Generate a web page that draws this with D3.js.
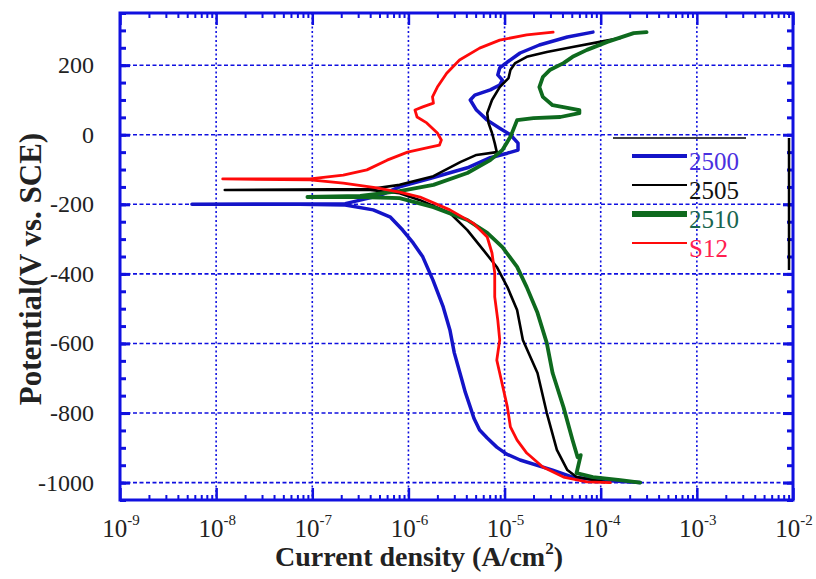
<!DOCTYPE html>
<html>
<head>
<meta charset="utf-8">
<script src="https://d3js.org/d3.v7.min.js"></script>
<style>
  body { margin: 0; background: #fff; }
  text { font-family: "Liberation Serif", "Times New Roman", serif; }
  .tick-label { font-size: 24px; fill: #222; }
  .axis-title { font-weight: bold; fill: #222; }
</style>
</head>
<body>
<svg width="816" height="579"></svg>
<script>
// Polarization curves: [current density A/cm2, potential]
var seriesNames = ["2500", "2505", "2510", "S12"];

var s2500 = [
  [2.57e-4, -1000], [9.8e-5, -993], [5.1e-5, -984], [3.16e-5, -964], [1.45e-5, -935],
  [1.05e-5, -918], [8.3e-6, -898], [6.6e-6, -872], [5.5e-6, -849], [4.8e-6, -815],
  [4.4e-6, -783], [3.9e-6, -740], [3.6e-6, -705], [3.0e-6, -627],
  [2.7e-6, -561], [2.3e-6, -495], [1.8e-6, -418], [1.41e-6, -351], [1.12e-6, -311],
  [8.7e-7, -274], [6.5e-7, -237], [4.3e-7, -216], [2.2e-7, -202], [7.4e-8, -200],
  [5.6e-9, -200], [2.2e-7, -198], [5.0e-7, -175], [8.1e-7, -150], [1.82e-6, -123],
  [4.1e-6, -95], [7.1e-6, -66], [1.07e-5, -53], [1.38e-5, -44], [1.38e-5, -24],
  [1.15e-5, 0], [8.9e-6, 19], [6.6e-6, 42], [5.1e-6, 71], [4.4e-6, 100],
  [4.9e-6, 114], [7.1e-6, 129], [8.9e-6, 143], [9.5e-6, 157], [8.5e-6, 172],
  [8.9e-6, 192], [1.07e-5, 209], [1.45e-5, 235], [2.3e-5, 258], [4.5e-5, 281], [8.3e-5, 295]
];

var s2505 = [
  [1.1e-4, -998], [5.6e-5, -984], [4.5e-5, -964], [3.5e-5, -906], [2.75e-5, -800],
  [2.2e-5, -685], [1.55e-5, -590], [1.35e-5, -504], [1.07e-5, -438], [8.3e-6, -380],
  [6.0e-6, -331], [4.1e-6, -274], [2.7e-6, -225], [1.32e-6, -188], [8.1e-7, -168],
  [4.0e-7, -159], [7.4e-8, -159], [1.23e-8, -159], [4.0e-7, -156], [8.1e-7, -144],
  [1.82e-6, -119], [3.5e-6, -78], [5.1e-6, -58], [8.3e-6, -50], [7.9e-6, -24],
  [7.4e-6, 5], [6.8e-6, 34], [6.6e-6, 62], [7.4e-6, 100], [8.9e-6, 137],
  [1.1e-5, 163], [1.15e-5, 186], [1.29e-5, 206], [1.7e-5, 224], [2.75e-5, 238],
  [5.1e-5, 252], [9.8e-5, 267], [1.6e-4, 278]
];

var s2510 = [
  [2.57e-4, -1000], [1.6e-4, -993], [8.3e-5, -984], [5.6e-5, -973], [6.2e-5, -921],
  [5.75e-5, -927], [5.1e-5, -878], [4.1e-5, -783], [3.16e-5, -685], [2.75e-5, -599],
  [2.2e-5, -512], [1.7e-5, -438], [1.35e-5, -380], [9.5e-6, -323], [6.6e-6, -282],
  [4.1e-6, -245], [1.82e-6, -208], [8.1e-7, -182], [3.16e-7, -179], [8.9e-8, -179],
  [3.16e-7, -176], [8.1e-7, -162], [1.82e-6, -144], [4.1e-6, -110], [7.1e-6, -73],
  [9.5e-6, -44], [1.15e-5, -6], [1.35e-5, 42], [2.0e-5, 48], [3.8e-5, 51],
  [6.0e-5, 62], [6.0e-5, 71], [4.5e-5, 77], [3.16e-5, 85], [2.5e-5, 109],
  [2.3e-5, 137], [2.5e-5, 166], [2.95e-5, 186], [4.1e-5, 206], [5.1e-5, 224],
  [7.2e-5, 244], [1.17e-4, 267], [2.2e-4, 292], [3.0e-4, 295]
];

var s12 = [
  [1.26e-4, -1000], [7.2e-5, -998], [4.1e-5, -984], [2.5e-5, -955], [1.7e-5, -915],
  [1.35e-5, -878], [1.15e-5, -840], [1.07e-5, -783], [8.9e-6, -685], [8.3e-6, -648],
  [8.9e-6, -590], [8.5e-6, -533], [7.9e-6, -466], [7.9e-6, -397], [7.4e-6, -340],
  [6.6e-6, -294], [4.7e-6, -254], [2.7e-6, -216], [1.32e-6, -179], [8.1e-7, -165],
  [4.7e-7, -153], [2.1e-7, -139], [9.5e-8, -130], [1.17e-8, -127], [9.5e-8, -127],
  [2.1e-7, -116], [3.7e-7, -101], [6.0e-7, -73], [9.8e-7, -50], [1.55e-6, -38],
  [2.1e-6, -30], [2.2e-6, -15], [2.0e-6, 5], [1.55e-6, 34], [1.23e-6, 51],
  [1.17e-6, 71], [1.41e-6, 80], [1.82e-6, 91], [1.78e-6, 109], [2.0e-6, 137],
  [2.5e-6, 177], [3.4e-6, 215], [5.5e-6, 249], [8.9e-6, 272], [1.7e-5, 287], [3.2e-5, 295]
];

var currentTicks = [1e-9, 1e-8, 1e-7, 1e-6, 1e-5, 1e-4, 1e-3, 1e-2];
var currentExps = ["-9", "-8", "-7", "-6", "-5", "-4", "-3", "-2"];
var potentialTicks = [-1000, -800, -600, -400, -200, 0, 200];

var svg = d3.select("svg");
var pL = 120, pR = 793, pT = 13, pB = 500;
var blue = "#1010e0";

var x = d3.scaleLog().domain([1e-9, 1e-2]).range([pL, pR]);
var y = d3.scaleLinear().domain([-1050, 350]).range([pB, pT]);

// grid
var grid = svg.append("g");
grid.selectAll(".gx").data(currentTicks.slice(1, -1)).enter().append("line")
  .attr("x1", function (d) { return x(d); }).attr("x2", function (d) { return x(d); })
  .attr("y1", pT).attr("y2", pB)
  .attr("stroke", blue).attr("stroke-width", 1.6).attr("stroke-dasharray", "2,2.5");
grid.selectAll(".gy").data(potentialTicks).enter().append("line")
  .attr("x1", pL).attr("x2", pR)
  .attr("y1", function (d) { return y(d); }).attr("y2", function (d) { return y(d); })
  .attr("stroke", blue).attr("stroke-width", 1.6).attr("stroke-dasharray", "4,2.5");

// minor ticks
var minorY = d3.range(-1050, 351, 50);
var minorX = [];
for (var e = -9; e < -2; e++) for (var m = 2; m <= 9; m++) minorX.push(m * Math.pow(10, e));

function yAxis(g, side) {
  var mk = side === "left" ? d3.axisLeft : d3.axisRight;
  g.call(mk(y).tickValues(minorY).tickSize(-6).tickFormat(""));
  g.select(".domain").remove();
  g.selectAll("line").attr("stroke", blue).attr("stroke-width", 3);
  var gm = g.append("g").call(mk(y).tickValues(potentialTicks).tickSize(-10).tickFormat(""));
  gm.select(".domain").remove();
  gm.selectAll("line").attr("stroke", blue).attr("stroke-width", 3);
}
yAxis(svg.append("g").attr("transform", "translate(" + pL + ",0)"), "left");
yAxis(svg.append("g").attr("transform", "translate(" + pR + ",0)"), "right");

function xAxis(g, side) {
  var mk = side === "bottom" ? d3.axisBottom : d3.axisTop;
  g.call(mk(x).tickValues(minorX).tickSize(-5).tickFormat(""));
  g.select(".domain").remove();
  g.selectAll("line").attr("stroke", blue).attr("stroke-width", 2);
  var gm = g.append("g").call(mk(x).tickValues(currentTicks).tickSize(-12).tickFormat(""));
  gm.select(".domain").remove();
  gm.selectAll("line").attr("stroke", blue).attr("stroke-width", 2.5);
}
xAxis(svg.append("g").attr("transform", "translate(0," + pB + ")"), "bottom");
xAxis(svg.append("g").attr("transform", "translate(0," + pT + ")"), "top");

// frame
svg.append("rect").attr("x", pL).attr("y", pT)
  .attr("width", pR - pL).attr("height", pB - pT)
  .attr("fill", "none").attr("stroke", blue).attr("stroke-width", 3);

// y tick labels
svg.selectAll(".ylab").data(potentialTicks).enter().append("text")
  .attr("class", "tick-label")
  .attr("x", 94).attr("y", function (d) { return y(d) + 8; })
  .attr("text-anchor", "end")
  .text(function (d) { return d; });

// x tick labels
var xl = svg.selectAll(".xlab").data(currentTicks).enter().append("text")
  .attr("class", "tick-label")
  .attr("x", function (d) { return x(d) + 1; }).attr("y", 537)
  .attr("text-anchor", "middle").style("font-size", "25px");
xl.append("tspan").text("10");
xl.append("tspan").attr("dy", -12).style("font-size", "15px")
  .text(function (d, i) { return currentExps[i]; });

// axis titles
svg.append("text").attr("class", "axis-title")
  .attr("transform", "translate(41,269) rotate(-90)")
  .attr("text-anchor", "middle").style("font-size", "31px")
  .text("Potential(V vs. SCE)");
var xt = svg.append("text").attr("class", "axis-title")
  .attr("x", 419).attr("y", 566).attr("text-anchor", "middle").style("font-size", "28px");
xt.append("tspan").text("Current density (A/cm");
xt.append("tspan").attr("dy", -12).style("font-size", "17px").text("2");
xt.append("tspan").attr("dy", 12).text(")");

// curves
var line = d3.line().x(function (d) { return x(d[0]); }).y(function (d) { return y(d[1]); });
var series = [s2500, s2505, s2510, s12];
var colors = ["#1414c8", "#000000", "#0e6a1e", "#ff0a0a"];
var widths = [3.5, 2.6, 3.8, 2.8];
series.forEach(function (s, i) {
  svg.append("path").datum(s).attr("d", line)
    .attr("fill", "none").attr("stroke", colors[i]).attr("stroke-width", widths[i])
    .attr("stroke-linejoin", "round").attr("stroke-linecap", "round");
});

// legend
svg.append("line").attr("x1", 613).attr("x2", 746).attr("y1", 138).attr("y2", 138)
  .attr("stroke", "#000").attr("stroke-width", 1.5);
svg.append("line").attr("x1", 789).attr("x2", 789).attr("y1", 138).attr("y2", 270)
  .attr("stroke", "#000").attr("stroke-width", 2.5);
var legendY = [156, 185, 214, 243];
var legendW = [4, 2, 6, 2];
var textColors = ["#4a30e0", "#111111", "#1a6650", "#ff2050"];
seriesNames.forEach(function (n, i) {
  svg.append("line").attr("x1", 632).attr("x2", 687)
    .attr("y1", legendY[i]).attr("y2", legendY[i])
    .attr("stroke", colors[i]).attr("stroke-width", legendW[i]);
  svg.append("text").attr("x", 689).attr("y", legendY[i] + 14)
    .style("font-size", "25px").attr("fill", textColors[i]).text(n);
});
</script>
</body>
</html>
